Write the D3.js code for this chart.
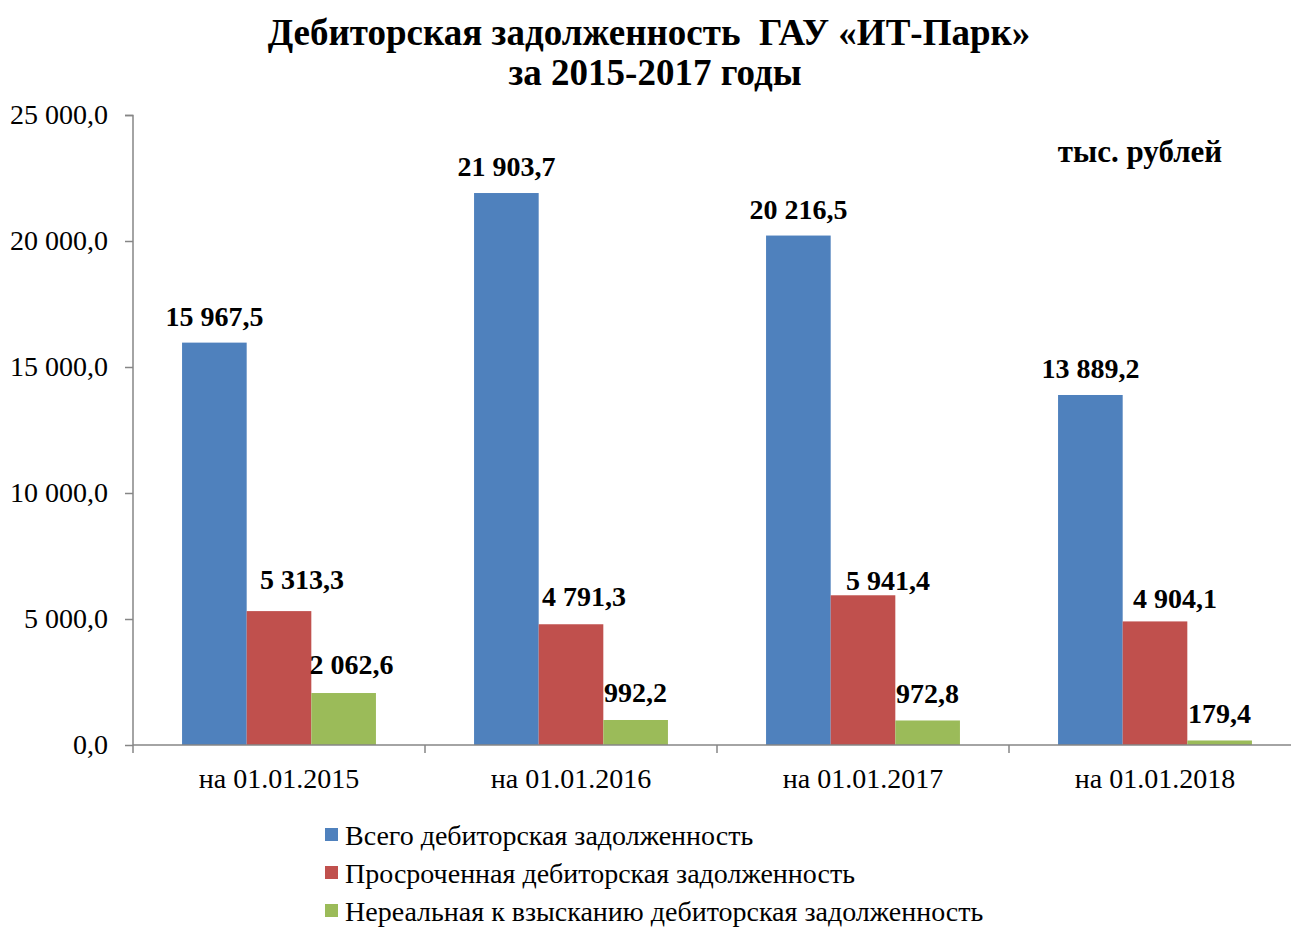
<!DOCTYPE html>
<html><head><meta charset="utf-8">
<script src="https://cdn.jsdelivr.net/npm/d3@7"></script>
<style>body{margin:0;background:#fff}svg{display:block}</style>
</head><body>
<script>
const categories = ["на 01.01.2015","на 01.01.2016","на 01.01.2017","на 01.01.2018"];
const seriesNames = ["Всего дебиторская задолженность","Просроченная дебиторская задолженность","Нереальная к взысканию дебиторская задолженность"];
const total = [15967.5, 21903.7, 20216.5, 13889.2];
const overdue = [5313.3, 4791.3, 5941.4, 4904.1];
const unrecoverable = [2062.6, 992.2, 972.8, 179.4];
const yTicks = [0, 5000, 10000, 15000, 20000, 25000];
const colors = ["#4F81BD","#C0504D","#9BBB59"];
const series = [total, overdue, unrecoverable];
// manual label nudges (style only), per series per category
const labelDx = [[0,0,0,0],[23,13,25,20],[8,0,0,0]];
const labelGap = [[17,17,17,17],[22,18,5,13],[19,18,17,17]];

const W = 1291, H = 927;
const svg = d3.select("body").append("svg").attr("width", W).attr("height", H);
const font = "'Liberation Serif','Times New Roman',serif";
const fmt = v => { const s = d3.format(",.1f")(v); return s.replace(/,/g," ").replace(".",","); };

const x0 = d3.scaleBand().domain(categories).range([133, 1301]).paddingInner(0.336).paddingOuter(0.168);
const x1 = d3.scaleBand().domain(d3.range(3)).range([0, x0.bandwidth()]);
const y = d3.scaleLinear().domain([0, 25000]).range([745, 115]);

// title
svg.append("text").attr("x", 649).attr("y", 45).attr("text-anchor","middle")
  .attr("xml:space","preserve")
  .style("font-family", font).style("font-weight","bold").style("font-size","37px")
  .text("Дебиторская задолженность  ГАУ «ИТ-Парк»");
svg.append("text").attr("x", 655).attr("y", 85).attr("text-anchor","middle")
  .style("font-family", font).style("font-weight","bold").style("font-size","37px")
  .text("за 2015-2017 годы");
svg.append("text").attr("x", 1140).attr("y", 162).attr("text-anchor","middle")
  .style("font-family", font).style("font-weight","bold").style("font-size","31px")
  .text("тыс. рублей");

// y axis
const yAxis = svg.append("g").attr("transform","translate(133,0)")
  .call(d3.axisLeft(y).tickValues(yTicks).tickSize(8).tickPadding(17).tickFormat(fmt));
yAxis.selectAll("path,line").attr("stroke","#868686").attr("stroke-width",1.5);
yAxis.select("path").attr("d","M-8,115.5H0V745");
yAxis.selectAll("text").style("font-family",font).style("font-size","28px").attr("fill","#000");

// bars
const groups = svg.append("g").selectAll("g").data(categories).join("g")
  .attr("transform", d => `translate(${x0(d)},0)`);
series.forEach((arr, si) => {
  groups.append("rect")
    .attr("x", x1(si)).attr("width", x1.bandwidth())
    .attr("y", (d,i) => y(arr[i])).attr("height", (d,i) => y(0) - y(arr[i]))
    .attr("fill", colors[si]);
});
series.forEach((arr, si) => {
  groups.append("text")
    .attr("x", (d,i) => x1(si) + x1.bandwidth()/2 + labelDx[si][i])
    .attr("y", (d,i) => y(arr[i]) - labelGap[si][i])
    .attr("text-anchor","middle")
    .style("font-family",font).style("font-weight","bold").style("font-size","28px")
    .text((d,i) => fmt(arr[i]));
});

// x axis
const step = x0.step();
const xAxisG = svg.append("g");
xAxisG.append("line").attr("x1",133).attr("x2",1301).attr("y1",745).attr("y2",745)
  .attr("stroke","#868686").attr("stroke-width",1.5);
xAxisG.selectAll("line.tk").data(d3.range(categories.length+1)).join("line").attr("class","tk")
  .attr("x1", i => 133 + i*step).attr("x2", i => 133 + i*step)
  .attr("y1",745).attr("y2",753).attr("stroke","#868686").attr("stroke-width",1.5);
xAxisG.selectAll("text").data(categories).join("text")
  .attr("x", d => x0(d) + x0.bandwidth()/2).attr("y", 788).attr("text-anchor","middle")
  .style("font-family",font).style("font-size","28px").text(d => d);

// legend
const leg = svg.append("g").selectAll("g").data(seriesNames).join("g")
  .attr("transform",(d,i)=>`translate(325,${845 + i*38})`);
leg.append("rect").attr("x",0).attr("y",-17).attr("width",13).attr("height",13).attr("fill",(d,i)=>colors[i]);
leg.append("text").attr("x",20).attr("y",0).style("font-family",font).style("font-size","28px").text(d=>d);
</script>
</body></html>
